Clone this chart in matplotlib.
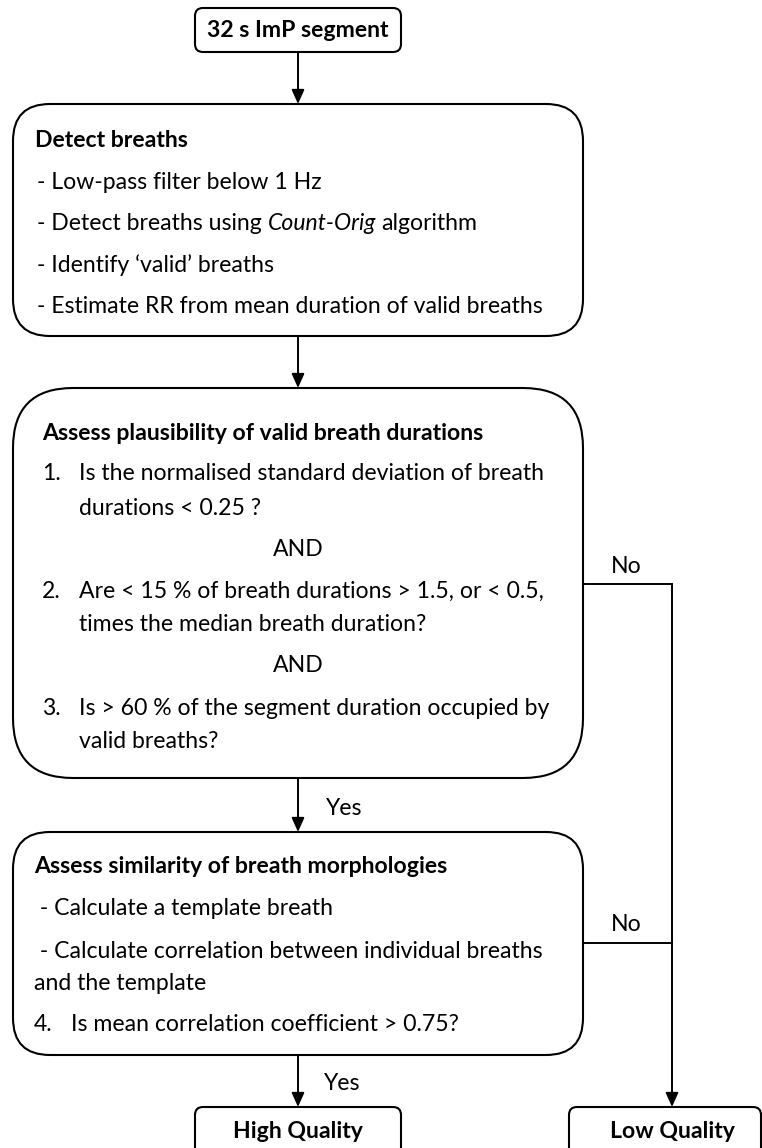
import matplotlib
matplotlib.use("Agg")
import matplotlib.pyplot as plt
from matplotlib.patches import FancyBboxPatch, FancyArrowPatch

FONT = ["Lato", "DejaVu Sans"]

# text content of the flowchart
top_label = "32 s ImP segment"

detect_title = "Detect breaths"
detect_steps = [
    "- Low-pass filter below 1 Hz",
    ("- Detect breaths using", "Count-Orig", "algorithm"),
    "- Identify \u2018valid\u2019 breaths",
    "- Estimate RR from mean duration of valid breaths",
]

plaus_title = "Assess plausibility of valid breath durations"
plaus_numbers = ["1.", "2.", "3."]
plaus_items = [
    ["Is the normalised standard deviation of breath", "durations < 0.25 ?"],
    ["Are < 15 % of breath durations > 1.5, or < 0.5,", "times the median breath duration?"],
    ["Is > 60 % of the segment duration occupied by", "valid breaths?"],
]
joiner = "AND"

simil_title = "Assess similarity of breath morphologies"
simil_steps = [" - Calculate a template breath",
               " - Calculate correlation between individual breaths",
               "and the template"]
simil_check = ("4.", "Is mean correlation coefficient > 0.75?")

outcomes = ["High Quality", "Low Quality"]
yes_label = "Yes"
no_label = "No"

W, H = 762, 1148
fig = plt.figure(figsize=(W / 100, H / 100), dpi=100)
ax = fig.add_axes([0, 0, 1, 1])
ax.set_xlim(0, W)
ax.set_ylim(H, 0)
ax.axis("off")

renderer = fig.canvas.get_renderer()
inv = ax.transData.inverted()


def text_width(s, size, **kw):
    t = ax.text(0, 0, s, fontsize=size, family=FONT, **kw)
    bb = t.get_window_extent(renderer)
    t.remove()
    return bb.width


# fit body font so the widest line in the first box matches the reference
size = 10 * 505 / text_width(detect_steps[3], 10)
px = size * 100 / 72
base = 0.30 * px  # baseline offset from visual centre
space = text_width("a a", size) - text_width("aa", size)


def put(x, y, s, ha="left", weight="normal", style="normal"):
    return ax.text(x, y + base, s, fontsize=size, family=FONT, ha=ha,
                   va="baseline", fontweight=weight, fontstyle=style)


def box(x0, y0, x1, y1, r):
    ax.add_patch(FancyBboxPatch((x0, y0), x1 - x0, y1 - y0,
                                boxstyle="round,pad=0,rounding_size=%g" % r,
                                fc="white", ec="black", lw=1.5))


def arrow(x, y0, y1):
    ax.add_patch(FancyArrowPatch((x, y0), (x, y1), mutation_scale=1,
                                 arrowstyle="-|>,head_length=8.5,head_width=3.8",
                                 color="black", lw=1.4, shrinkA=0, shrinkB=0))


cx = 298

# top box
box(195, 8, 401, 52, 8)
put(cx, 30, top_label, ha="center", weight="bold")
arrow(cx, 52, 104)

# detect breaths box
box(13, 104, 583, 336, 37)
put(35, 140, detect_title, weight="bold")
for y, s in zip([182, 223, 265, 306], detect_steps):
    if isinstance(s, tuple):
        x = 37
        gaps = [space, space * 0.85, 0]
        for part, st, gap in zip(s, ["normal", "italic", "normal"], gaps):
            t = put(x, y, part, style=st)
            bb = t.get_window_extent(renderer)
            x = inv.transform((bb.x1, 0))[0] + gap
    else:
        put(37, y, s)
arrow(cx, 336, 388)

# plausibility box
box(13, 388, 583, 778, 60)
put(42, 433, plaus_title, weight="bold")
rows = [(473, 508), (591, 624), (708, 741)]
for num, lines, ys in zip(plaus_numbers, plaus_items, rows):
    put(42, ys[0], num)
    for y, s in zip(ys, lines):
        put(79, y, s)
for y in [549, 665]:
    put(cx, y, joiner, ha="center")
arrow(cx, 778, 832)
put(343, 808, yes_label, ha="center")

# similarity box
box(13, 832, 583, 1055, 37)
put(34, 866, simil_title, weight="bold")
for y, s in zip([908, 951, 983], simil_steps):
    put(34, y, s)
put(34, 1024, simil_check[0])
put(71, 1024, simil_check[1])
arrow(cx, 1055, 1107)
put(341, 1083, yes_label, ha="center")

# "No" branches
ax.plot([583, 672], [584, 584], color="black", lw=1.4)
ax.plot([583, 672], [943, 943], color="black", lw=1.4)
put(626, 566, no_label, ha="center")
put(626, 924, no_label, ha="center")
arrow(672, 584, 1107)

# outcome boxes
box(195, 1107, 401, 1175, 8)
put(cx, 1131, outcomes[0], ha="center", weight="bold")
box(569, 1107, 761, 1175, 8)
put(672, 1131, outcomes[1], ha="center", weight="bold")

fig.savefig("out.png", dpi=100)
